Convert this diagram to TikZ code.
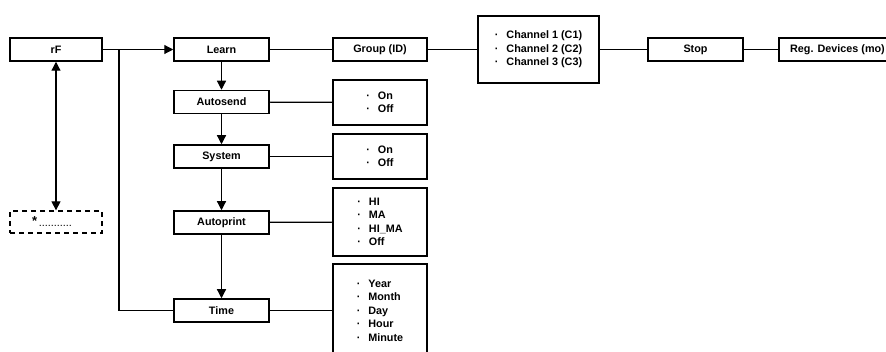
\documentclass[tikz,border=0pt]{standalone}
\usepackage{fontspec}
\setmainfont{Liberation Sans}
\usetikzlibrary{arrows.meta}
\begin{document}
\begin{tikzpicture}[x=1pt,y=-1pt,
  box/.style={draw,line width=1.5pt,minimum height=23pt,inner sep=0pt,font=\fontsize{10.8}{13.5}\selectfont\bfseries},
  mbox/.style={box,minimum width=95pt},
  lbox/.style={box,minimum width=94pt,align=left},
  dbox/.style={box,draw,line width=1.3pt,dash pattern=on 5pt off 4pt},
  conn/.style={line width=1.2pt},
  arr/.style={conn,-{Triangle[length=9pt,width=9pt]}},
  darr/.style={conn,{Triangle[length=9pt,width=9pt]}-{Triangle[length=9pt,width=9pt]}}
]
\useasboundingbox (0,0) rectangle (886,352);
\clip (0,0) rectangle (886,352);
\node[box,minimum width=92pt] (rF) at (56,49.5) {rF};
\node[mbox] (learn) at (221.5,49.5) {Learn};
\node[mbox] (autosend) at (221.5,102) {Autosend};
\node[mbox] (system) at (221.5,156.5) {System};
\node[mbox] (autoprint) at (221.5,222.5) {Autoprint};
\node[mbox] (time) at (221.5,310.5) {Time};
\node[dbox,minimum width=92pt,minimum height=22pt] (dash) at (56,222) {\hspace{-8pt}\raisebox{1pt}{\fontsize{13}{13}\selectfont *}\,\mdseries...........};
\node[box,minimum width=94pt] (group) at (380,49.5) {Group (ID)};
\node[lbox,minimum width=121pt,minimum height=67pt] (chan) at (538.5,49.5) {·\hspace{8pt}Channel 1 (C1)\\·\hspace{8pt}Channel 2 (C2)\\·\hspace{8pt}Channel 3 (C3)};
\node[mbox] (stop) at (695.5,49.5) {Stop};
\node[box,minimum width=117pt] (reg) at (837.5,49.5) {Reg. Devices (mo)};
\node[lbox,minimum height=45pt] (onoff1) at (380,102.5) {·\hspace{8pt}On\\·\hspace{8pt}Off};
\node[lbox,minimum height=45pt] (onoff2) at (380,156.5) {·\hspace{8pt}On\\·\hspace{8pt}Off};
\node[lbox,minimum height=68pt] (hima) at (380,222) {·\hspace{8pt}HI\\·\hspace{8pt}MA\\·\hspace{8pt}HI\_MA\\·\hspace{8pt}Off};
\node[lbox,minimum height=93pt] (year) at (380,310.5) {·\hspace{8pt}Year\\·\hspace{8pt}Month\\·\hspace{8pt}Day\\·\hspace{8pt}Hour\\·\hspace{8pt}Minute};
\coordinate (br) at (119,49.5);
\draw[arr] (rF) -- (learn);
\draw[conn] (br) |- (time.west);
\draw[arr] (learn) -- (autosend);
\draw[arr] (autosend) -- (system);
\draw[arr] (system) -- (autoprint);
\draw[arr] (autoprint) -- (time);
\draw[darr] (rF) -- (dash);
\draw[conn] (learn) -- (group);
\draw[conn] (group) -- (chan);
\draw[conn] (chan) -- (stop);
\draw[conn] (stop) -- (reg);
\draw[conn] (autosend) -- (onoff1);
\draw[conn] (system) -- (onoff2);
\draw[conn] (autoprint) -- (hima);
\draw[conn] (time) -- (year);
\end{tikzpicture}
\end{document}
